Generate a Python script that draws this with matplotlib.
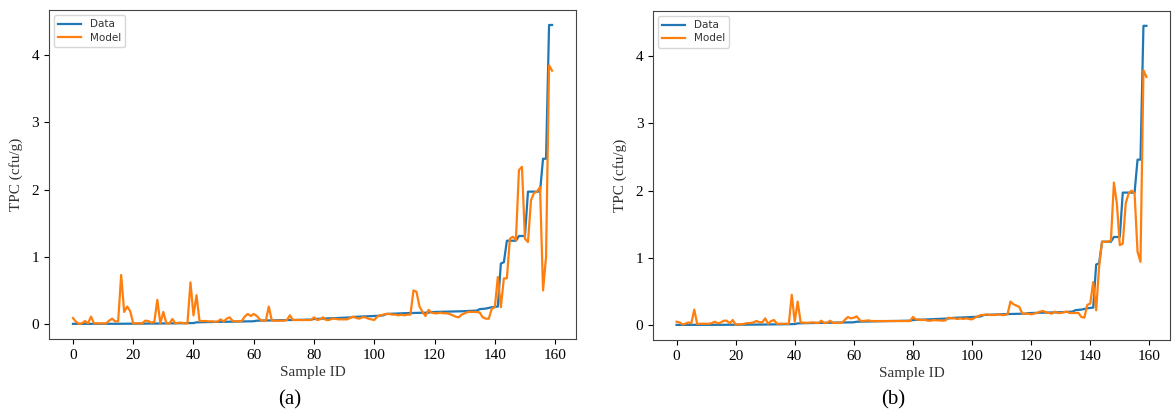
import numpy as np
import matplotlib
matplotlib.use("Agg")
import matplotlib.pyplot as plt

# Measured TPC for the 160 samples, sorted ascending
data_tpc = [
    0.003, 0.003, 0.003, 0.003, 0.003, 0.003, 0.003, 0.003, 0.003, 0.003,
    0.004, 0.004, 0.004, 0.004, 0.004, 0.004, 0.004, 0.005, 0.005, 0.005,
    0.006, 0.006, 0.006, 0.006, 0.007, 0.007, 0.007, 0.008, 0.008, 0.008,
    0.009, 0.009, 0.010, 0.010, 0.011, 0.011, 0.012, 0.012, 0.013, 0.014,
    0.015, 0.025, 0.027, 0.028, 0.029, 0.030, 0.030, 0.031, 0.032, 0.033,
    0.033, 0.034, 0.035, 0.035, 0.036, 0.037, 0.038, 0.039, 0.040, 0.040,
    0.042, 0.050, 0.051, 0.052, 0.053, 0.054, 0.055, 0.055, 0.056, 0.057,
    0.058, 0.059, 0.060, 0.060, 0.061, 0.062, 0.063, 0.064, 0.065, 0.066,
    0.075, 0.077, 0.079, 0.080, 0.082, 0.084, 0.086, 0.088, 0.090, 0.092,
    0.094, 0.096, 0.098, 0.105, 0.108, 0.110, 0.112, 0.114, 0.116, 0.118,
    0.120, 0.122, 0.124, 0.130, 0.150, 0.152, 0.154, 0.156, 0.158, 0.160,
    0.162, 0.163, 0.164, 0.165, 0.166, 0.167, 0.168, 0.169, 0.170, 0.178,
    0.180, 0.181, 0.182, 0.183, 0.184, 0.185, 0.186, 0.187, 0.188, 0.190,
    0.192, 0.194, 0.196, 0.198, 0.200, 0.222, 0.226, 0.230, 0.240, 0.250,
    0.255, 0.260, 0.900, 0.920, 1.240, 1.240, 1.240, 1.240, 1.310, 1.310,
    1.310, 1.970, 1.970, 1.970, 1.970, 1.970, 2.460, 2.460, 4.450, 4.450,
]

# Model predictions, panel (a)
model_a = [
    0.09, 0.035, 0.0, 0.01, 0.045, 0.01, 0.11, 0.01, 0.01, 0.01,
    0.01, 0.01, 0.05, 0.08, 0.04, 0.04, 0.73, 0.18, 0.26, 0.19,
    0.01, 0.01, 0.01, 0.01, 0.05, 0.045, 0.02, 0.03, 0.36, 0.01,
    0.18, 0.01, 0.01, 0.075, 0.01, 0.02, 0.02, 0.01, 0.01, 0.62,
    0.13, 0.43, 0.045, 0.045, 0.045, 0.04, 0.04, 0.035, 0.035, 0.07,
    0.035, 0.08, 0.10, 0.045, 0.04, 0.04, 0.045, 0.11, 0.15, 0.12,
    0.15, 0.12, 0.07, 0.05, 0.05, 0.26, 0.05, 0.05, 0.05, 0.05,
    0.05, 0.06, 0.13, 0.06, 0.06, 0.06, 0.06, 0.06, 0.06, 0.06,
    0.10, 0.06, 0.07, 0.10, 0.06, 0.06, 0.08, 0.08, 0.07, 0.07,
    0.07, 0.07, 0.09, 0.11, 0.09, 0.08, 0.10, 0.10, 0.08, 0.07,
    0.06, 0.11, 0.13, 0.14, 0.15, 0.15, 0.14, 0.14, 0.13, 0.14,
    0.13, 0.14, 0.14, 0.50, 0.48, 0.26, 0.18, 0.12, 0.21, 0.17,
    0.16, 0.16, 0.17, 0.16, 0.16, 0.15, 0.13, 0.11, 0.10, 0.14,
    0.16, 0.18, 0.18, 0.18, 0.18, 0.17, 0.10, 0.08, 0.08, 0.23,
    0.25, 0.70, 0.25, 0.68, 0.68, 1.27, 1.30, 1.25, 2.29, 2.34,
    1.27, 1.22, 1.84, 1.95, 1.97, 2.04, 0.50, 1.00, 3.85, 3.77,
]

# Model predictions, panel (b)
model_b = [
    0.05, 0.04, 0.01, 0.02, 0.04, 0.025, 0.23, 0.015, 0.02, 0.02,
    0.02, 0.02, 0.03, 0.05, 0.025, 0.04, 0.065, 0.065, 0.025, 0.075,
    0.01, 0.01, 0.01, 0.02, 0.03, 0.03, 0.04, 0.06, 0.045, 0.04,
    0.10, 0.02, 0.06, 0.075, 0.02, 0.02, 0.02, 0.02, 0.02, 0.45,
    0.05, 0.35, 0.04, 0.035, 0.035, 0.035, 0.04, 0.035, 0.03, 0.065,
    0.03, 0.035, 0.065, 0.03, 0.035, 0.035, 0.035, 0.08, 0.12, 0.10,
    0.11, 0.13, 0.07, 0.06, 0.065, 0.07, 0.06, 0.06, 0.06, 0.06,
    0.06, 0.06, 0.06, 0.06, 0.06, 0.06, 0.06, 0.06, 0.06, 0.06,
    0.12, 0.085, 0.08, 0.075, 0.08, 0.065, 0.065, 0.075, 0.07, 0.07,
    0.065, 0.07, 0.11, 0.10, 0.10, 0.09, 0.10, 0.09, 0.10, 0.09,
    0.085, 0.11, 0.13, 0.15, 0.15, 0.16, 0.15, 0.15, 0.15, 0.16,
    0.15, 0.15, 0.16, 0.35, 0.31, 0.29, 0.27, 0.17, 0.17, 0.17,
    0.16, 0.17, 0.18, 0.20, 0.21, 0.19, 0.18, 0.17, 0.20, 0.18,
    0.18, 0.19, 0.20, 0.18, 0.18, 0.18, 0.18, 0.12, 0.11, 0.30,
    0.32, 0.64, 0.22, 0.87, 1.24, 1.24, 1.24, 1.26, 2.12, 1.81,
    1.19, 1.21, 1.81, 1.96, 2.00, 1.96, 1.09, 0.94, 3.79, 3.69,
]

panel_labels = ["(a)", "(b)"]
x_label = "Sample ID"
y_label = "TPC (cfu/g)"

serif = ["Liberation Serif", "DejaVu Serif"]

fig = plt.figure(figsize=(11.72, 4.18), dpi=100)
axes_boxes = [
    [0.0418, 0.189, 0.4497, 0.787],
    [0.5572, 0.187, 0.4410, 0.787],
]
caption_x = [0.247, 0.762]

sample_ids = np.arange(len(data_tpc))
for box, model, label, cx in zip(axes_boxes, [model_a, model_b], panel_labels, caption_x):
    ax = fig.add_axes(box)
    ax.plot(sample_ids, data_tpc, color="#1f77b4", lw=1.6, label="Data")
    ax.plot(sample_ids, model, color="#ff7f0e", lw=1.6, label="Model")
    ax.set_xticks([0, 20, 40, 60, 80, 100, 120, 140, 160])
    ax.set_yticks([0, 1, 2, 3, 4])
    for t in ax.get_xticklabels() + ax.get_yticklabels():
        t.set_family(serif)
        t.set_fontsize(11)
    ax.set_xlabel(x_label, family=serif, fontsize=11, color="#333333", labelpad=3)
    ax.set_ylabel(y_label, family=serif, fontsize=11, color="#333333", labelpad=6)
    for s in ax.spines.values():
        s.set_color("#444444")
    leg = ax.legend(loc="upper left", fontsize=7.5, frameon=True,
                    handlelength=2.2, borderpad=0.4, labelspacing=0.3)
    for t in leg.get_texts():
        t.set_color("#333333")
    fig.text(cx, 0.043, label, family=serif, fontsize=15, ha="center", va="center")

fig.savefig("out.png", dpi=100)
